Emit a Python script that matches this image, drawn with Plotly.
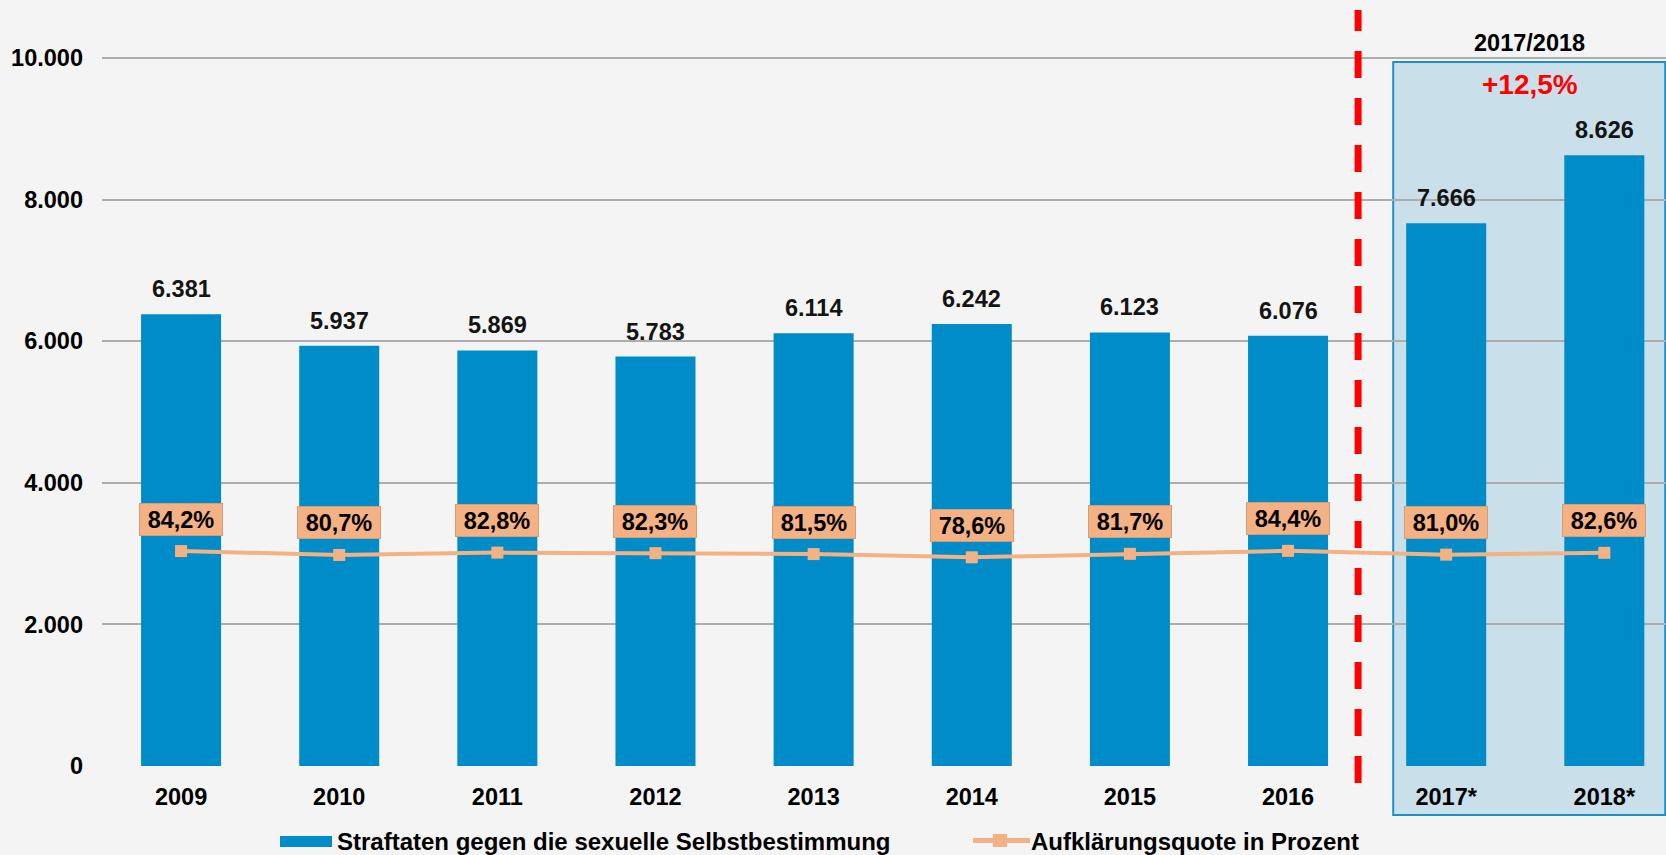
import plotly.graph_objects as go

# ---- data ----
categories = ["2009", "2010", "2011", "2012", "2013", "2014", "2015", "2016", "2017*", "2018*"]
cases = [6381, 5937, 5869, 5783, 6114, 6242, 6123, 6076, 7666, 8626]
clearance_rate = [84.2, 80.7, 82.8, 82.3, 81.5, 78.6, 81.7, 84.4, 81.0, 82.6]
y_ticks = [0, 2000, 4000, 6000, 8000, 10000]
box_title = "2017/2018"
box_change = "+12,5%"
legend_bar = "Straftaten gegen die sexuelle Selbstbestimmung"
legend_line = "Aufklärungsquote in Prozent"

# ---- styling / layout geometry ----
W, H = 1666, 855
Y_ZERO_PX, Y_TOP_TICK_PX = 766, 58          # pixel rows of 0 and 10.000
MT = 54
ML, MR = 102, 0
MB = H - Y_ZERO_PX
PW, PH = W - ML - MR, Y_ZERO_PX - MT
YMAX = y_ticks[-1] * PH / (Y_ZERO_PX - Y_TOP_TICK_PX)
XMIN, XMAX = -0.5, 9.39
BAR_COLOR = "#008CC9"
LINE_COLOR = "#F4B183"
BG = "#F4F4F4"
FONT = "Liberation Sans, Arial, sans-serif"
FS = 23.5


def px_x(px):
    return (px - ML) / PW


def px_y(py):
    return (Y_ZERO_PX - py) / PH


def data_x(xu):
    return (xu - XMIN) / (XMAX - XMIN)


def de_num(v):
    return f"{v:,}".replace(",", ".")


def de_pct(v):
    return f"{v:.1f}%".replace(".", ",")


fig = go.Figure()
fig.add_trace(go.Bar(
    x=categories, y=cases, marker=dict(color=BAR_COLOR, line=dict(width=0)),
    name=legend_bar, showlegend=False, yaxis="y",
))
fig.add_trace(go.Scatter(
    x=categories, y=clearance_rate, mode="lines+markers", yaxis="y2",
    line=dict(color=LINE_COLOR, width=4),
    marker=dict(symbol="square", size=12, color=LINE_COLOR),
    name=legend_line, showlegend=False,
))

annotations = []
for i, v in enumerate(cases):
    annotations.append(dict(
        x=i, y=v, xref="x", yref="y", text=de_num(v), showarrow=False,
        xanchor="center", yanchor="middle",
        yshift=25, font=dict(family=FONT, size=FS, color="#141414", weight="bold"),
    ))
for i, r in enumerate(clearance_rate):
    annotations.append(dict(
        x=i, y=r, xref="x", yref="y2", text=de_pct(r), showarrow=False,
        xanchor="center", yanchor="middle",
        yshift=32, bgcolor=LINE_COLOR, bordercolor="#D99B72", borderwidth=1,
        borderpad=0, width=82, height=31,
        font=dict(family=FONT, size=FS, color="#000000", weight="bold"),
    ))

# box header texts
box_x0, box_x1 = 7.665, XMAX
box_cx = (data_x(box_x0) + data_x(box_x1)) / 2
annotations.append(dict(
    x=box_cx, y=px_y(43), xref="paper", yref="paper", text=box_title,
    xanchor="center", yanchor="middle", showarrow=False,
    font=dict(family=FONT, size=FS, color="#000000", weight="bold"),
))
annotations.append(dict(
    x=box_cx, y=px_y(85), xref="paper", yref="paper", text=box_change,
    xanchor="center", yanchor="middle", showarrow=False,
    font=dict(family=FONT, size=28, color="#FF0000", weight="bold"),
))

# custom legend texts
annotations.append(dict(
    x=px_x(335), y=px_y(841), xref="paper", yref="paper", text=legend_bar,
    xanchor="left", yanchor="middle", showarrow=False,
    font=dict(family=FONT, size=24, color="#000000", weight="bold"),
))
annotations.append(dict(
    x=px_x(1029), y=px_y(841), xref="paper", yref="paper", text=legend_line,
    xanchor="left", yanchor="middle", showarrow=False,
    font=dict(family=FONT, size=24, color="#000000", weight="bold"),
))

shapes = [
    # highlighted 2017/2018 box
    dict(type="rect", xref="paper", yref="paper", layer="between",
         x0=data_x(box_x0), x1=data_x(box_x1) - 0.0005, y0=px_y(815), y1=px_y(62),
         fillcolor="rgba(30,144,200,0.2)", line=dict(color="#1E90C8", width=2)),
    # red dashed separator
    dict(type="line", xref="paper", yref="paper",
         x0=data_x(7.443), x1=data_x(7.443), y0=px_y(783), y1=px_y(10),
         line=dict(color="#FF0000", width=7, dash="27px,20px")),
    # legend swatches
    dict(type="rect", xref="paper", yref="paper",
         x0=px_x(280), x1=px_x(332), y0=px_y(847), y1=px_y(836),
         fillcolor=BAR_COLOR, line=dict(width=0)),
    dict(type="line", xref="paper", yref="paper",
         x0=px_x(973), x1=px_x(1030), y0=px_y(840.5), y1=px_y(840.5),
         line=dict(color=LINE_COLOR, width=5)),
    dict(type="rect", xref="paper", yref="paper",
         x0=px_x(993), x1=px_x(1007), y0=px_y(847), y1=px_y(834),
         fillcolor=LINE_COLOR, line=dict(width=0)),
]

fig.update_layout(
    width=W, height=H,
    margin=dict(l=ML, r=MR, t=MT, b=MB, pad=0),
    paper_bgcolor=BG, plot_bgcolor=BG,
    separators=",.",
    bargap=0.494,
    showlegend=False,
    font=dict(family=FONT, size=FS, color="#000000"),
    xaxis=dict(
        type="category", range=[XMIN, XMAX], showgrid=False, zeroline=False,
        showline=False, ticks="", ticklabelstandoff=14,
        tickfont=dict(family=FONT, size=FS, color="#000000", weight="bold"),
    ),
    yaxis=dict(
        range=[0, YMAX], tickvals=y_ticks, tickformat=",d",
        showgrid=True, gridcolor="#ADADAD", gridwidth=1.6, zeroline=False,
        showline=False, ticks="", ticklabelstandoff=18,
        tickfont=dict(family=FONT, size=FS, color="#000000", weight="bold"),
    ),
    yaxis2=dict(
        overlaying="y", side="right", range=[-109, 531], visible=False,
        showgrid=False, zeroline=False,
    ),
    annotations=annotations,
    shapes=shapes,
)

fig.write_html(
    "out.html",
    config={"displayModeBar": False},
    post_script="document.body.style.margin='0';document.body.style.background='#F4F4F4';",
)
